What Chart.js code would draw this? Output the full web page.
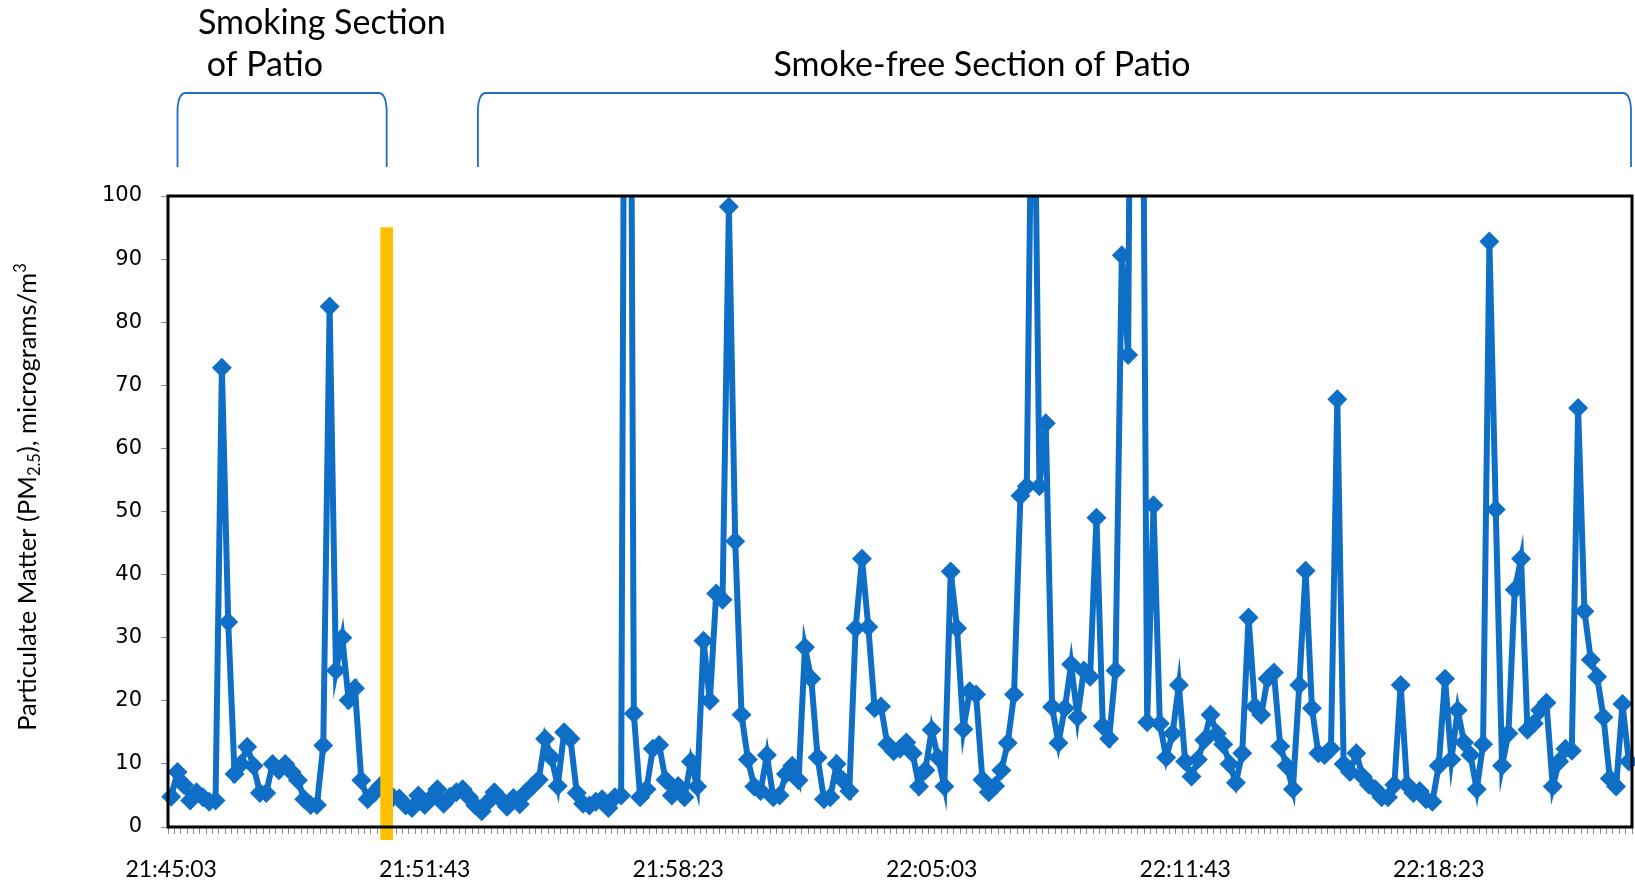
<!DOCTYPE html>
<html>
<head>
<meta charset="utf-8">
<script src="https://cdn.jsdelivr.net/npm/chart.js@4.4.1/dist/chart.umd.min.js"></script>
<style>
  html, body { margin: 0; padding: 0; background: #fff; }
  canvas { display: block; }
</style>
</head>
<body>
<canvas id="pmChart" width="1635" height="883"></canvas>
<script>
'use strict';

// PM2.5 readings (micrograms/m3), one every 10 s starting 21:45:03.
// Readings above 100 run off the top of the plot.
const pmValues = [
  4.8, 8.7, 6.7, 4.2, 5.5, 4.7, 4, 4.2, 72.8, 32.5, 8.4, 10, 12.7, 9.7, 5.4, 5.4,
  10, 9, 10, 8.7, 7.4, 4.4, 3.5, 3.5, 12.9, 82.5, 24.8, 30, 20.1, 22, 7.4, 4.4,
  5.4, 6.5,
  5.5, 4.7, 4.5, 3.4, 3, 5, 3.5, 4.6, 6, 3.7, 4.8, 5.5, 6, 4.7, 3.4, 2.5,
  4, 5.5, 4.4, 3.2, 4.6, 3.6, 5.5, 6.5, 7.5,
  14, 11, 6.5, 15, 14, 5.4, 3.7, 3.4, 4, 4.4, 3, 4.7, 5, 260, 18,
  4.7, 6, 12.4, 13, 7.5, 5, 6.5, 4.7, 10.4, 6.4, 29.5,
  20, 37, 36, 98.3, 45.3, 17.8, 10.7, 6.4, 5.7, 11.4, 4.7, 5, 8.4, 9.7, 7.4,
  28.5, 23.5, 11, 4.4, 4.7, 10, 7.4, 5.7, 31.5, 42.5,
  31.7, 18.8, 19.1, 13.1, 12, 12.4, 13.4, 11.7, 6.4, 9, 15.4, 11, 6.4,
  40.5, 31.5, 15.5, 21.5, 21, 7.5, 5.5, 6.5, 9, 13.3, 21, 52.5, 54, 140, 54,
  64, 19, 13.3, 18.8, 25.8, 17.4, 24.8, 23.8, 49, 16, 14, 24.8, 90.6, 74.8, 234,
  175, 16.6,
  51, 16.4, 11, 14.8, 22.5, 10.4, 8, 10.7, 13.8, 17.8, 14.8, 13.1, 10, 7, 11.7,
  33.2, 19.1, 17.8, 23.5, 24.5, 12.8, 9.7, 6, 22.5, 40.6, 18.8, 11.7, 11.4, 12.4,
  67.8, 10, 8.7, 11.7, 8, 6.7, 6, 4.7, 4.7, 6.7,
  22.5, 6.7, 5.4, 5.7, 4.4, 4, 9.7, 23.5, 10.7, 18.5, 13.4, 11.4, 6, 13.1, 92.8,
  50.3, 9.7, 14.8, 37.6, 42.5, 15.4, 16.4, 18.5, 19.7, 6.4, 10.4, 12.4, 12.1, 66.4,
  34.2, 26.5, 23.8, 17.4, 7.7, 6.4, 19.5, 10.4
];

const tickLabels = ['21:45:03', '21:51:43', '21:58:23', '22:05:03', '22:11:43', '22:18:23'];
const yTickValues = [0, 10, 20, 30, 40, 50, 60, 70, 80, 90, 100];

// moment the monitor moved from the smoking to the smoke-free section
const switchIndex = 34;
const switchRange = [-2, 95];

// reading indices covered by each section bracket
const sectionTitles = [['Smoking Section', ' of Patio'], ['Smoke-free Section of Patio']];
const sectionSpans = [[1, 34], [48.4, 230.5]];

const startSeconds = 21 * 3600 + 45 * 60 + 3;
const sampleSeconds = 10;

const BLUE = '#0F6FC6';
const AXIS_GREY = '#8C8C8C';

const sampleTimes = pmValues.map((_, i) => {
    const t = startSeconds + i * sampleSeconds;
    return [Math.floor(t / 3600), Math.floor((t % 3600) / 60), t % 60]
        .map(n => String(n).padStart(2, '0')).join(':');
});

const switchData = pmValues.map((_, i) => (i === switchIndex ? switchRange : null));

// ─── Frame, brackets, headings, axis texts ──────────────────────
const decorations = {
    id: 'decorations',
    afterDraw(chart) {
        const { ctx, chartArea: area, scales: { x } } = chart;
        ctx.save();

        ctx.strokeStyle = '#000';
        ctx.lineWidth = 3;
        ctx.strokeRect(area.left, area.top, area.right - area.left, area.bottom - area.top);

        // time labels under the category axis
        ctx.fillStyle = '#000';
        ctx.font = '23px Lato';
        ctx.textAlign = 'center';
        ctx.textBaseline = 'alphabetic';
        tickLabels.forEach(lbl => {
            const i = sampleTimes.indexOf(lbl);
            if (i >= 0) ctx.fillText(lbl, x.getPixelForValue(i), 877);
        });

        // brackets above the plot
        ctx.strokeStyle = '#1F6FC5';
        ctx.lineWidth = 1.8;
        const top = 93, bottom = 167;
        sectionSpans.forEach(([a, b]) => {
            const x0 = x.getPixelForValue(a);
            const x1 = Math.min(x.getPixelForValue(b), area.right - 1);
            ctx.beginPath();
            ctx.moveTo(x0, bottom);
            ctx.lineTo(x0, top + 16);
            ctx.quadraticCurveTo(x0 + 1, top, x0 + 8, top);
            ctx.lineTo(x1 - 8, top);
            ctx.quadraticCurveTo(x1 - 1, top, x1, top + 16);
            ctx.lineTo(x1, bottom);
            ctx.stroke();
        });

        ctx.font = '34px Lato';
        ctx.textAlign = 'left';
        ctx.fillText(sectionTitles[0][0], 198, 34);
        ctx.fillText(sectionTitles[0][1], 198, 76);
        ctx.textAlign = 'center';
        ctx.fillText(sectionTitles[1][0], 982, 76);

        // y title with subscript / superscript
        const parts = [
            ['Particulate Matter (PM', 0], ['2.5', 1], ['), micrograms/m', 0], ['3', -1]
        ];
        const fontFor = shift => (shift === 0 ? '25.5px Lato' : '16.5px Lato');
        let total = 0;
        parts.forEach(([txt, shift]) => { ctx.font = fontFor(shift); total += ctx.measureText(txt).width; });
        ctx.translate(28, 497);
        ctx.rotate(-Math.PI / 2);
        ctx.textAlign = 'left';
        ctx.textBaseline = 'middle';
        let pos = -total / 2;
        parts.forEach(([txt, shift]) => {
            ctx.font = fontFor(shift);
            ctx.fillText(txt, pos, shift * 7);
            pos += ctx.measureText(txt).width;
        });
        ctx.restore();
    }
};

new Chart(document.getElementById('pmChart'), {
    type: 'line',
    data: {
        labels: sampleTimes,
        datasets: [
            {
                type: 'bar',
                data: switchData,
                backgroundColor: '#FFC000',
                barThickness: 12,
                clip: false,
                order: 0
            },
            {
                type: 'line',
                data: pmValues,
                borderColor: BLUE,
                backgroundColor: BLUE,
                borderWidth: 6,
                tension: 0,
                pointStyle: 'rectRot',
                pointRadius: 10,
                pointBorderWidth: 0,
                pointBackgroundColor: BLUE,
                clip: { left: 12, top: 0, right: 12, bottom: 12 },
                order: 1
            }
        ]
    },
    options: {
        responsive: false,
        animation: false,
        devicePixelRatio: 1,
        layout: {
            autoPadding: false,
            padding: { top: 196, right: 3, left: 0, bottom: 0 }
        },
        plugins: {
            legend: { display: false },
            tooltip: { enabled: false }
        },
        scales: {
            x: {
                offset: true,
                grid: { offset: true, drawOnChartArea: false, drawTicks: true, tickLength: 7, color: AXIS_GREY },
                border: { color: AXIS_GREY, width: 2 },
                ticks: { display: false, autoSkip: false },
                afterFit: s => { s.height = 56; }
            },
            y: {
                min: 0,
                max: 100,
                afterBuildTicks: s => { s.ticks = yTickValues.map(v => ({ value: v })); },
                grid: { drawOnChartArea: false, drawTicks: true, tickLength: 7, color: AXIS_GREY },
                border: { color: AXIS_GREY, width: 2 },
                ticks: {
                    padding: 19,
                    color: '#000',
                    font: { family: 'DejaVu Sans', size: 21 }
                },
                afterFit: s => { s.width = 168; }
            }
        }
    },
    plugins: [decorations]
});
</script>
</body>
</html>
